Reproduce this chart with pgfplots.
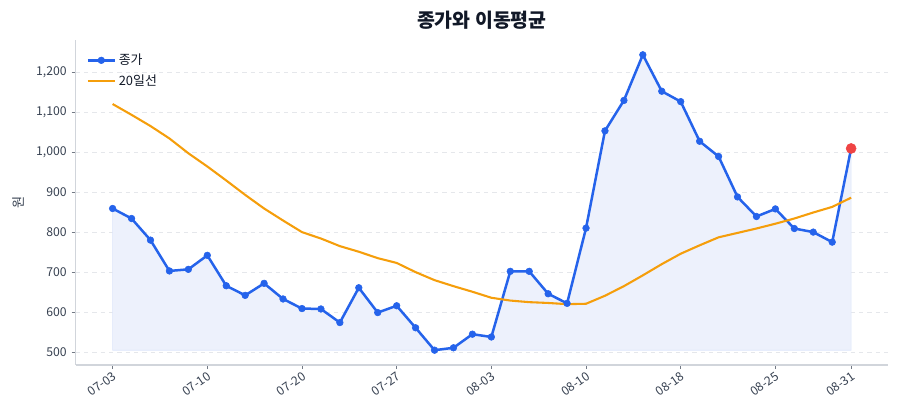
\documentclass[border=0pt]{standalone}
\usepackage{fontspec}
\setmainfont{Noto Sans CJK KR}
\usepackage{pgfplots}
\pgfplotsset{compat=1.18}

\definecolor{cblue}{HTML}{2563EB}
\definecolor{corange}{HTML}{F59E0B}
\definecolor{cred}{HTML}{EF4444}
\definecolor{cfill}{HTML}{EDF1FC}
\definecolor{cedge}{HTML}{DCE5FA}
\definecolor{cgrid}{HTML}{E5E7EB}
\definecolor{caxis}{HTML}{D1D5DB}
\definecolor{ctext}{HTML}{374151}
\definecolor{ctitle}{HTML}{111827}

\begin{document}
\begin{tikzpicture}
\useasboundingbox (-54.5pt,-39.6pt) rectangle (593.5pt,262.8pt);
\begin{axis}[
  at={(0,0)}, anchor=south west,
  scale only axis,
  width=584.9pt, height=234pt,
  xmin=-1.95, xmax=40.95,
  ymin=469, ymax=1281,
  axis x line*=bottom, axis y line*=left,
  axis line style={caxis, line width=0.8pt},
  tick align=outside,
  major tick length=3pt,
  tick style={color=ctext!70, line width=0.6pt},
  xtick={0,5,10,15,20,25,30,35,39},
  xticklabels={07-03,07-10,07-20,07-27,08-03,08-10,08-18,08-25,08-31},
  xticklabel style={rotate=35, anchor=north east, inner sep=1pt, font=\fontsize{8.8}{10}\selectfont, color=ctext},
  ytick={500,600,...,1200},
  yticklabel style={font=\fontsize{8.8}{10}\selectfont, color=ctext},
  /pgf/number format/.cd, 1000 sep={,}, assume math mode=true,
  /pgfplots/.cd,
  ymajorgrids,
  grid style={cgrid, dashed, line width=0.6pt},
  ylabel={원},
  ylabel style={font=\fontsize{9.5}{10}\selectfont, color=ctext, yshift=2pt},
  title={종가와 이동평균},
  title style={at={(0.5,1)}, anchor=center, yshift=8pt, font=\bfseries\fontsize{14}{16}\selectfont, color=ctitle},
  legend style={at={(0.008,0.975)}, anchor=north west, draw=none, fill=none,
    font=\fontsize{9.3}{11}\selectfont, text=ctitle, row sep=2pt,
    /tikz/every even column/.append style={column sep=2pt}},
  legend image code/.code={
    \draw[#1, mark repeat=2, mark phase=2] plot coordinates {(0cm,0cm) (0.34cm,0cm) (0.68cm,0cm)};
  },
  legend cell align=left,
  clip=false,
]
% fill under the close price
\addplot[fill=cfill, draw=cedge, line width=0.5pt, forget plot] coordinates {
(0,506) (0,860) (1,835) (2,781) (3,704) (4,708) (5,743) (6,667) (7,643) (8,673) (9,634)
(10,610) (11,609) (12,575) (13,662) (14,600) (15,617) (16,562) (17,506) (18,512) (19,546)
(20,539) (21,703) (22,703) (23,647) (24,623) (25,811) (26,1054) (27,1130) (28,1244) (29,1153)
(30,1127) (31,1028) (32,990) (33,889) (34,840) (35,859) (36,810) (37,801) (38,776) (39,1010) (39,506)
} -- cycle;
% close price
\addplot[cblue, line width=1.8pt, mark=*, mark size=2.4pt, mark options={fill=cblue, draw=cblue, line width=0.4pt}] coordinates {
(0,860) (1,835) (2,781) (3,704) (4,708) (5,743) (6,667) (7,643) (8,673) (9,634)
(10,610) (11,609) (12,575) (13,662) (14,600) (15,617) (16,562) (17,506) (18,512) (19,546)
(20,539) (21,703) (22,703) (23,647) (24,623) (25,811) (26,1054) (27,1130) (28,1244) (29,1153)
(30,1127) (31,1028) (32,990) (33,889) (34,840) (35,859) (36,810) (37,801) (38,776) (39,1010)
};
\addlegendentry{종가}
% 20-day moving average
\addplot[corange, line width=1.5pt] coordinates {
(0,1121) (1,1094) (2,1066) (3,1035) (4,998) (5,965) (6,930) (7,894) (8,860) (9,830)
(10,801) (11,785) (12,766) (13,752) (14,736) (15,724) (16,701) (17,681) (18,666) (19,652)
(20,637) (21,630) (22,626) (23,624) (24,621) (25,622) (26,642) (27,666) (28,693) (29,721)
(30,747) (31,768) (32,788) (33,799) (34,810) (35,822) (36,835) (37,850) (38,864) (39,887)
};
\addlegendentry{20일선}
% last point
\addplot[only marks, mark=*, mark size=3.6pt, color=cred, forget plot] coordinates {(39,1010)};
\end{axis}
\end{tikzpicture}
\end{document}
